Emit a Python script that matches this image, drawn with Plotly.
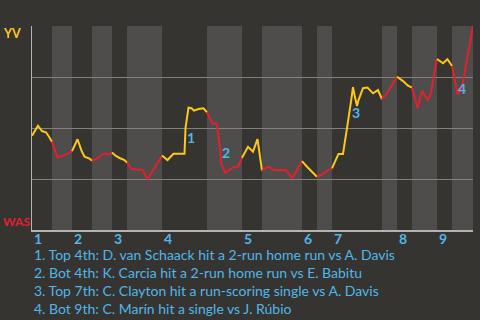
import plotly.graph_objects as go

# ---- data ----
event_x = [0, 1.2, 2, 2.8, 3.4, 4, 5.1, 5.7, 6.5, 7.5, 8, 9.1, 9.9, 10.5, 11.5, 12,
           13.2, 14, 14.7, 15.2, 16, 16.7, 17.5, 18.5, 19, 19.9, 22.1, 23.1, 26,
           27.1, 28.3, 30.5, 30.7, 31.3, 31.9, 32.4, 33.3, 34.3, 35, 36.1, 36.9,
           37.3, 37.9, 38.7, 40.2, 41.2, 42, 43.2, 44.2, 45.1, 46, 47.3, 48.3,
           50.7, 52.1, 54, 55, 57, 58, 59.2, 60, 60.5, 61.3, 62.2, 62.5, 63.1,
           63.9, 64.2, 64.5, 65, 65.3, 66.2, 67.1, 68.2, 69.2, 70, 71.2, 73,
           74.2, 75.2, 76, 77.1, 78, 79.1, 79.7, 81, 82.2, 83.1, 84, 85.1, 85.9, 88.2]
wp_yv = [46.2, 51.1, 48.5, 47.9, 45.7, 43.3, 35.6, 36.1, 36.8, 37.7, 38.7, 44.5, 38.9,
         35.9, 35.0, 34.0, 35.4, 36.8, 37.6, 36.8, 38.0, 36.4, 35.3, 34.3, 33.0, 29.9,
         29.4, 24.9, 36.5, 34.3, 37.4, 37.4, 49.9, 60.0, 59.7, 58.5, 59.3, 59.7, 57.7,
         52.3, 52.0, 46.6, 31.9, 28.1, 30.7, 31.0, 35.4, 40.8, 38.4, 44.6, 29.1, 31.0,
         29.4, 29.4, 25.6, 33.8, 31.0, 26.1, 27.3, 29.4, 30.2, 32.7, 37.3, 37.3, 41.7,
         51.5, 64.6, 70.0, 66.2, 60.8, 63.7, 69.5, 69.8, 67.0, 68.6, 64.1, 67.8, 75.1,
         73.0, 70.7, 69.8, 59.7, 68.3, 63.7, 66.2, 83.8, 81.7, 83.7, 80.4, 66.7, 68.6, 100]
half_bounds = [0, 4, 8, 12, 16, 19, 26, 35, 42, 46, 54, 57, 60, 70, 73, 76, 81, 84, 88.2]
inning_labels = ["1", "2", "3", "4", "5", "6", "7", "8", "9"]
key_event_x = [30.7, 37.9, 63.1, 85.1]
key_labels = ["1", "2", "3", "4"]
notes = [
    "1. Top 4th: D. van Schaack hit a 2-run home run vs A. Davis",
    "2. Bot 4th: K. Carcia hit a 2-run home run vs E. Babitu",
    "3. Top 7th: C. Clayton hit a run-scoring single vs A. Davis",
    "4. Bot 9th: C. Marín hit a single vs J. Rúbio",
]
team_top = "YV"
team_bottom = "WAS"

# ---- style ----
BG = "#353431"
BAND = "#4e4d4b"
GRID = "#83817e"
AXIS = "#b4b3b1"
YELLOW = "#fcc81c"
RED = "#e3202e"
BLUE = "#52b6e8"
FONT = "Lato"

W, H = 480, 320
ML, MR, MT, MB = 32, 7, 26, 90
plot_w = W - ML - MR
plot_h = H - MT - MB

fig = go.Figure()
shapes = []
for i in range(len(half_bounds) - 1):
    a, b = half_bounds[i], half_bounds[i + 1]
    pts = [(x, y) for x, y in zip(event_x, wp_yv) if a <= x <= b]
    color = YELLOW if i % 2 == 0 else RED
    fig.add_trace(go.Scatter(x=[p[0] for p in pts], y=[p[1] for p in pts], mode="lines",
                             line=dict(color=color, width=2), hoverinfo="skip",
                             showlegend=False))
    if i % 2 == 1:
        shapes.append(dict(type="rect", xref="x", yref="paper", x0=a, x1=b, y0=0, y1=1,
                           fillcolor=BAND, line=dict(width=0), layer="below"))

annotations = []
# key-event number markers
shifts = [(5, -9), (4, 12), (8, 12), (4, 5)]
for kx, lab, (dx, dy) in zip(key_event_x, key_labels, shifts):
    ky = wp_yv[event_x.index(kx)]
    annotations.append(dict(x=kx, y=ky, xref="x", yref="y", text=lab, showarrow=False,
                            xshift=dx, yshift=dy,
                            font=dict(family=FONT, size=14, color=BLUE, weight="bold")))
# inning tick labels
for k, lab in enumerate(inning_labels):
    annotations.append(dict(x=half_bounds[2 * k], y=-8 / plot_h, xref="x", yref="paper",
                            text=lab, showarrow=False, xanchor="left", yanchor="middle",
                            font=dict(family=FONT, size=14, color=BLUE, weight="bold")))
# team labels (left-aligned near the page edge)
annotations.append(dict(x=-(ML - 1) / plot_w, y=1, xref="paper", yref="paper",
                        text=team_top, showarrow=False, xanchor="left", yanchor="middle",
                        yshift=-7,
                        font=dict(family=FONT, size=12.5, color=YELLOW, weight="bold")))
annotations.append(dict(x=-(ML - 1) / plot_w, y=0, xref="paper", yref="paper",
                        text=team_bottom, showarrow=False, xanchor="left",
                        yanchor="middle", yshift=9,
                        font=dict(family=FONT, size=12, color=RED, weight="bold")))
# notes
for j, t in enumerate(notes):
    annotations.append(dict(x=0, y=-(24 + 18 * j) / plot_h, xref="paper", yref="paper",
                            text=t, showarrow=False, xanchor="left", yanchor="middle",
                            xshift=0,
                            font=dict(family=FONT, size=14, color=BLUE)))

fig.update_layout(
    width=W, height=H, margin=dict(l=ML, r=MR, t=MT, b=MB),
    paper_bgcolor=BG, plot_bgcolor=BG,
    shapes=shapes, annotations=annotations, showlegend=False,
    xaxis=dict(range=[0, half_bounds[-1]], showgrid=False, zeroline=False,
               showticklabels=False, ticks="", showline=True, linecolor=AXIS,
               linewidth=2, fixedrange=True),
    yaxis=dict(range=[0, 100], tickvals=[25, 50, 75, 100], showticklabels=False,
               ticks="", showgrid=True, gridcolor=GRID, gridwidth=1, zeroline=False,
               showline=True, linecolor=AXIS, linewidth=1, fixedrange=True),
)

fig.write_html("out.html", config={"displayModeBar": False})
